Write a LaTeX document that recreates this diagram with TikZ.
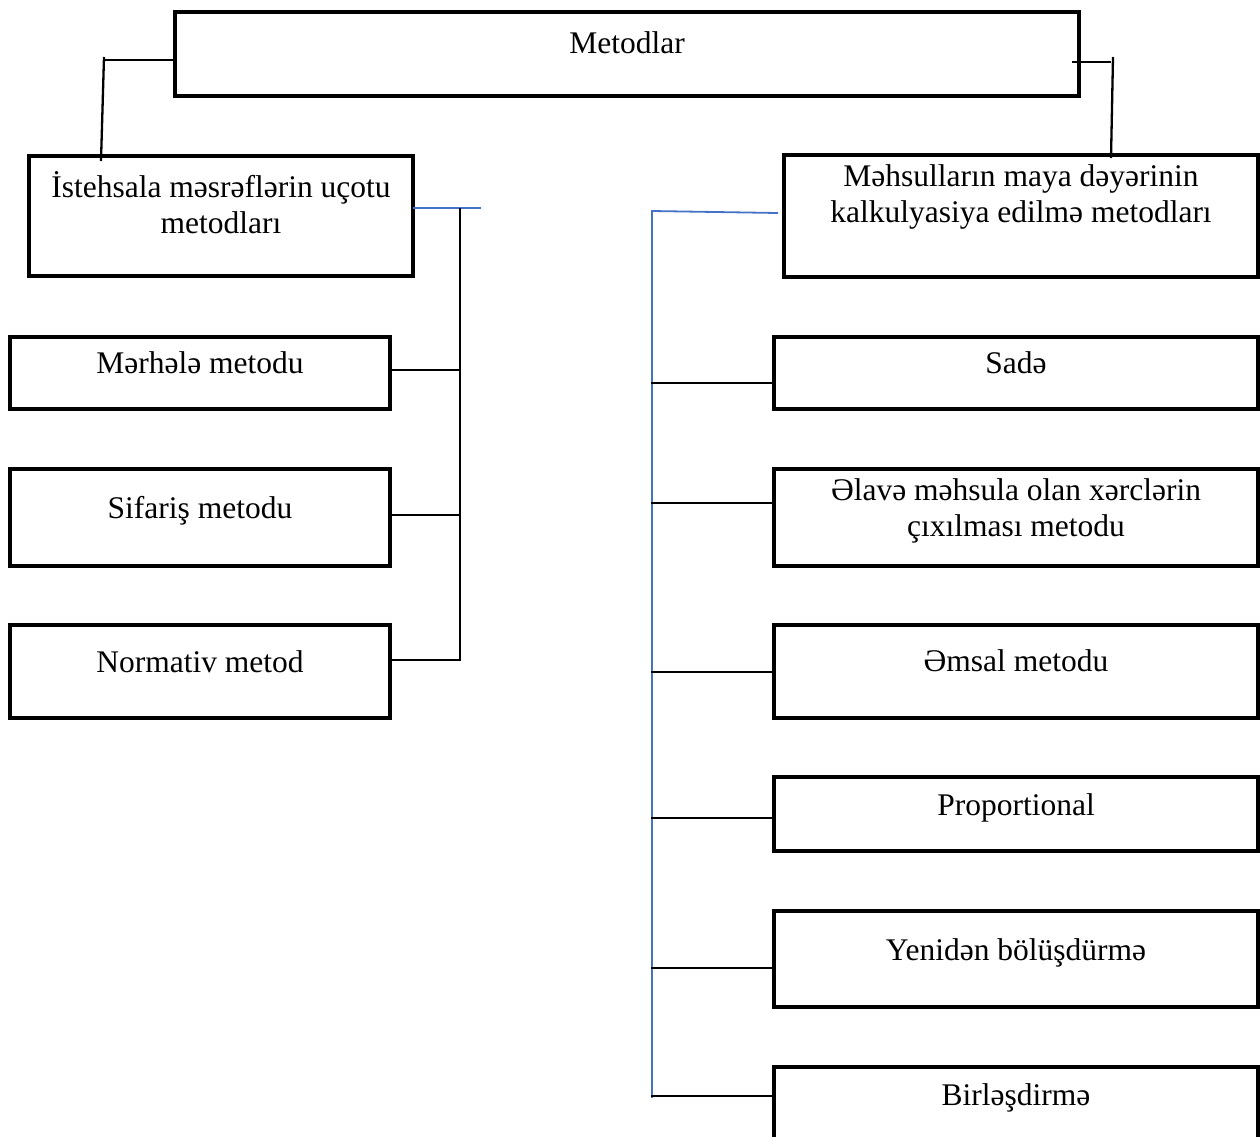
\documentclass[tikz,border=0pt]{standalone}
\usepackage{fontspec}
\setmainfont{Liberation Serif}
\definecolor{wordblue}{HTML}{4472C4}
\begin{document}
\begin{tikzpicture}[x=1pt,y=-1pt,
  box/.style={draw, line width=3.2pt, inner sep=0pt, outer sep=0pt, align=center,
    anchor=north west, font=\fontsize{31.5}{36}\selectfont},
  conn/.style={line width=2.3pt},
  bconn/.style={draw=wordblue, line width=1.8pt}]
\useasboundingbox (0,0) rectangle (1260,1136);
\clip (0,0) rectangle (1260,1136);
% top
\node[box, minimum width=904, text height=41, text depth=43] (M) at (175,12) {Metodlar};
% second level
\node[box, minimum width=384, text height=77, text depth=43] (L0) at (29,156) {İstehsala məsrəflərin uçotu\\metodları};
\node[box, minimum width=474, text height=67, text depth=55] (R0) at (784,155) {Məhsulların maya dəyərinin\\kalkulyasiya edilmə metodları};
% left children
\node[box, minimum width=380, text height=36, text depth=36] (L1) at (10,337) {Mərhələ metodu};
\node[box, minimum width=380, text height=49, text depth=48] (L2) at (10,469) {Sifariş metodu};
\node[box, minimum width=380, text height=47, text depth=46] (L3) at (10,625) {Normativ metod};
% right children
\node[box, minimum width=484, text height=36, text depth=36] (R1) at (774,337) {Sadə};
\node[box, minimum width=484, text height=67, text depth=30] (R2) at (774,469) {Əlavə məhsula olan xərclərin\\çıxılması metodu};
\node[box, minimum width=484, text height=46, text depth=47] (R3) at (774,625) {Əmsal metodu};
\node[box, minimum width=484, text height=38, text depth=36] (R4) at (774,777) {Proportional};
\node[box, minimum width=484, text height=49, text depth=47] (R5) at (774,911) {Yenidən bölüşdürmə};
\node[box, minimum width=484, text height=38, text depth=62] (R6) at (774,1067) {Birləşdirmə};
% top connectors
\coordinate (ltT) at (104,57);
\coordinate (ltB) at (101,161);
\draw[conn] (ltT |- 0,60) -- (M.west |- 0,60);
\draw[conn] (ltT) -- (ltB);
\coordinate (rtT) at (1113,57);
\coordinate (rtB) at (1111,158);
\coordinate (rtS) at (1072,62);
\draw[conn] (rtS) -- (1111,62);
\draw[conn] (rtT) -- (rtB);
% left bus
\coordinate (lbT) at (460,208);
\coordinate (lbB) at (460,660);
\coordinate (lbE) at (481,208);
\draw[bconn] (L0.east |- lbT) -- (lbE);
\draw[conn, line join=miter] (L3.east |- lbB) -- (lbB) -- (lbT);
\draw[conn] (L1.east |- 0,370) -- (lbT |- 0,370);
\draw[conn] (L2.east |- 0,515) -- (lbT |- 0,515);
% right bus
\coordinate (rbT) at (652,210);
\coordinate (rbB) at (652,1098);
\coordinate (rbE) at (778,213);
\draw[bconn] (rbT) -- (rbB);
\draw[bconn] (652,211) -- (rbE);
\draw[conn] (651,383) -- (R1.west |- 0,383);
\draw[conn] (651,503) -- (R2.west |- 0,503);
\draw[conn] (651,672) -- (R3.west |- 0,672);
\draw[conn] (651,818) -- (R4.west |- 0,818);
\draw[conn] (651,968) -- (R5.west |- 0,968);
\draw[conn] (651,1096) -- (R6.west |- 0,1096);
\end{tikzpicture}
\end{document}
